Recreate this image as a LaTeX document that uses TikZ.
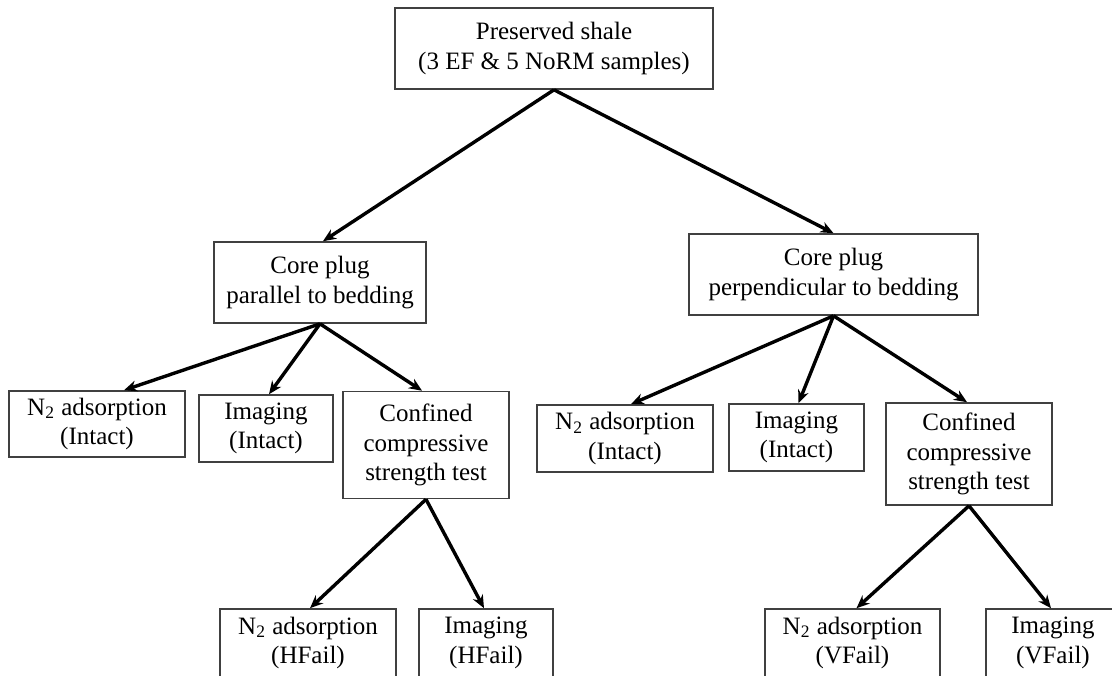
\documentclass[tikz,border=0pt]{standalone}
\usepackage{fontspec}
\setmainfont{Liberation Serif}
\usetikzlibrary{arrows.meta}
\definecolor{boxline}{HTML}{404040}
\begin{document}
\begin{tikzpicture}[x=0.5pt,y=-0.5pt,
  box/.style={draw=boxline,line width=0.8pt,inner sep=0pt,align=center,
    font=\fontsize{12.5}{14.75}\selectfont,
    execute at begin node={\rule{0pt}{11.6pt}}},
  arr/.style={line width=1.7pt,-{Stealth[length=6.5pt,width=5.5pt]}}]
\useasboundingbox (0,0) rectangle (1112,675);
\clip (0,0) rectangle (1112,675);
\node[box,minimum width=159pt,minimum height=40.5pt] (top) at (554,48.5) {Preserved shale\\(3 EF \& 5 NoRM samples)};
\node[box,minimum width=105.75pt,minimum height=40.5pt] (lcore) at (320,282.5) {Core plug\\parallel to bedding};
\node[box,minimum width=144.5pt,minimum height=40.5pt] (rcore) at (833.5,274.5) {Core plug\\perpendicular to bedding};
\node[box,minimum width=88pt,minimum height=33pt] (ln2) at (97,424) {N\textsubscript{2} adsorption\\(Intact)};
\node[box,minimum width=67pt,minimum height=33.5pt] (limg) at (266,428.5) {Imaging\\(Intact)};
\node[box,minimum width=83pt,minimum height=53.5pt] (lconf) at (426,445) {Confined\\compressive\\strength test};
\node[box,minimum width=88pt,minimum height=33.5pt] (rn2) at (625,438.5) {N\textsubscript{2} adsorption\\(Intact)};
\node[box,minimum width=67.5pt,minimum height=33.5pt] (rimg) at (796.5,437.5) {Imaging\\(Intact)};
\node[box,minimum width=83pt,minimum height=51pt] (rconf) at (969,454) {Confined\\compressive\\strength test};
\node[box,minimum width=88pt,minimum height=34pt] (hn2) at (308,643) {N\textsubscript{2} adsorption\\(HFail)};
\node[box,minimum width=67pt,minimum height=34pt] (himg) at (486,643) {Imaging\\(HFail)};
\node[box,minimum width=87.5pt,minimum height=34pt] (vn2) at (852.5,643) {N\textsubscript{2} adsorption\\(VFail)};
\node[box,minimum width=67pt,minimum height=34pt] (vimg) at (1053,643) {Imaging\\(VFail)};
\draw[arr] (top.south) -- ([xshift=1.5pt]lcore.north);
\draw[arr] (top.south) -- (rcore.north);
\draw[arr] (lcore.south) -- ([xshift=13.5pt]ln2.north);
\draw[arr] (lcore.south) -- ([xshift=1.5pt]limg.north);
\draw[arr] (lcore.south) -- ([xshift=-2pt]lconf.north);
\draw[arr] (rcore.south) -- ([xshift=3pt]rn2.north);
\draw[arr] (rcore.south) -- ([xshift=1pt]rimg.north);
\draw[arr] (rcore.south) -- ([xshift=-1pt]rconf.north);
\draw[arr] (lconf.south) -- ([xshift=1pt]hn2.north);
\draw[arr] (lconf.south) -- ([xshift=-1pt]himg.north);
\draw[arr] (rconf.south) -- ([xshift=2pt]vn2.north);
\draw[arr] (rconf.south) -- ([xshift=-1pt]vimg.north);
\end{tikzpicture}
\end{document}
